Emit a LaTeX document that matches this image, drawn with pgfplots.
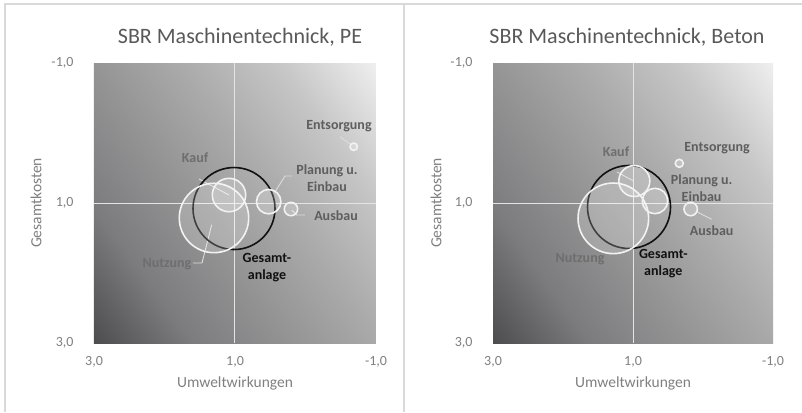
\documentclass[border=0pt]{standalone}
\usepackage{pgfplots}
\usepackage{pgfplotstable}
\pgfplotsset{compat=1.18}
\usepackage{fontspec}
\setmainfont{Carlito}
\definecolor{framec}{HTML}{D9D9D9}
\definecolor{titlegray}{HTML}{595959}
\definecolor{labgray}{HTML}{7F7F7F}
\definecolor{ga}{HTML}{4E4E51}
\definecolor{gb}{HTML}{7C7C7E}
\definecolor{gc}{HTML}{939394}
\definecolor{gd}{HTML}{ABABAC}
\definecolor{ge}{HTML}{C6C6C7}
\definecolor{gf}{HTML}{EEEEEE}
\pgfdeclarehorizontalshading{diaggrad}{100bp}{color(0bp)=(ga); color(15.55bp)=(ga); color(29.33bp)=(gb); color(43.11bp)=(gc); color(56.89bp)=(gd); color(70.67bp)=(ge); color(84.45bp)=(gf); color(100bp)=(gf)}
\definecolor{gridc}{HTML}{E4E4E4}
\definecolor{dla}{HTML}{6E6E6E}
\definecolor{dlb}{HTML}{5E5E5E}
\definecolor{dlk}{HTML}{111111}
\definecolor{bubw}{HTML}{F2F2F2}
\definecolor{leadc}{HTML}{DDDDDD}

% PE: x = Umweltwirkungen, y = Gesamtkosten, r = bubble radius (pt)
\pgfplotstableread{
x      y      r
1.298  1.214  34.7
1.085  0.886  16.7
0.522  0.981  12.2
0.206  1.086  6.7
-0.684 0.196  3.7
}\peteile
\pgfplotstableread{
x      y      r
1.014  1.079  41.0
}\pegesamt
% Beton
\pgfplotstableread{
x      y      r
1.281  1.219  35.3
0.981  0.686  15.5
0.686  0.971  12.7
0.176  1.086  6.7
0.339  0.433  4.0
}\betonteile
\pgfplotstableread{
x      y      r
1.057  1.057  41.5
}\betongesamt

\pgfplotsset{
  panel/.style={
    scale only axis, width=#1, height=280pt, anchor=south west,
    xmin=-1, xmax=3, ymin=-1, ymax=3, x dir=reverse, y dir=reverse,
    xtick={-1,1,3}, xticklabels={{-1,0},{1,0},{3,0}},
    ytick={-1,1,3}, yticklabels={{-1,0},{1,0},{3,0}},
    axis line style={draw=none}, major tick length=0pt,
    tick label style={font=\fontsize{14}{14}\selectfont, text=labgray},
    xticklabel style={yshift=-10pt},
    yticklabel style={xshift=-17pt},
    axis background/.style={shade, shading=diaggrad, shading angle=36},
    clip=false,
  },
  bubble/.style 2 args={scatter, only marks, mark=*,
    scatter/use mapped color={draw=#1, fill=white, fill opacity=#2, line width=1.6pt},
    visualization depends on={\thisrow{r}\as\rad},
    scatter/@pre marker code/.append style={/tikz/mark size=\rad}},
}
\tikzset{
  lab/.style={font=\bfseries\fontsize{14}{17}\selectfont, align=center, text=#1, inner sep=0pt},
  leader/.style={draw=leadc, line width=0.9pt},
}

\begin{document}
\begin{tikzpicture}
\path[use as bounding box] (0pt,0pt) rectangle (802pt,412pt);
\draw[framec, line width=1.5pt] (5pt,0pt) -- (5pt,408pt) -- (802pt,408pt);
\draw[framec, line width=1.5pt] (404pt,0pt) -- (404pt,408pt);

% ---------- PE ----------
\begin{axis}[panel=282pt, at={(94pt,69pt)}]
\draw[gridc, line width=1pt] (axis cs:1,-1) -- (axis cs:1,3);
\draw[gridc, line width=1pt] (axis cs:-1,1) -- (axis cs:3,1);
\addplot[bubble={dlk}{0.05}] table[x=x, y=y] {\pegesamt};
\addplot[bubble={bubw}{0.2}] table[x=x, y=y] {\peteile};
\draw[leader] (axis cs:1.511,0.657) -- (axis cs:1.085,0.886);
\draw[leader] (axis cs:1.596,1.857) -- (axis cs:1.468,1.857) -- (axis cs:1.33,1.31);
\draw[leader] (axis cs:0.191,0.614) -- (axis cs:0.291,0.614) -- (axis cs:0.433,0.843);
\draw[leader] (axis cs:0.197,1.10) -- (axis cs:0.126,1.171) -- (axis cs:0.007,1.171);
\draw[leader] (axis cs:-0.489,0.053) -- (axis cs:-0.631,0.157);
\node[lab=dla] at (axis cs:1.567,0.357) {Kauf};
\node[lab=dla] at (axis cs:1.965,1.871) {Nutzung};
\node[lab=dlb] at (axis cs:-0.305,0.65) {Planung u.\\Einbau};
\node[lab=dlb] at (axis cs:-0.433,1.186) {Ausbau};
\node[lab=dlb] at (axis cs:-0.475,-0.1) {Entsorgung};
\node[lab=dlk] at (axis cs:0.546,1.92) {Gesamt-\\anlage};
\end{axis}

% ---------- Beton ----------
\begin{axis}[panel=280pt, at={(493pt,69pt)}]
\draw[gridc, line width=1pt] (axis cs:1,-1) -- (axis cs:1,3);
\draw[gridc, line width=1pt] (axis cs:-1,1) -- (axis cs:3,1);
\addplot[bubble={dlk}{0.05}] table[x=x, y=y] {\betongesamt};
\addplot[bubble={bubw}{0.2}] table[x=x, y=y] {\betonteile};
\draw[leader] (axis cs:1.229,0.557) -- (axis cs:0.99,0.686);
\draw[leader] (axis cs:0.090,1.124) -- (axis cs:-0.124,1.233);
\node[lab=dla] at (axis cs:1.243,0.267) {Kauf};
\node[lab=dla] at (axis cs:1.757,1.804) {Nutzung};
\node[lab=dlb] at (axis cs:0.02,0.786) {Planung u.\\Einbau};
\node[lab=dlb] at (axis cs:-0.124,1.4) {Ausbau};
\node[lab=dlb] at (axis cs:-0.2,0.21) {Entsorgung};
\node[lab=dlk] at (axis cs:0.567,1.87) {Gesamt-\\anlage};
\end{axis}

% titles and axis labels
\node[text=titlegray, font=\fontsize{22}{22}\selectfont] at (240pt,375pt) {SBR Maschinentechnick, PE};
\node[text=titlegray, font=\fontsize{22}{22}\selectfont] at (627pt,375pt) {SBR Maschinentechnick, Beton};
\node[text=labgray, font=\fontsize{15.5}{15.5}\selectfont] at (235pt,29pt) {Umweltwirkungen};
\node[text=labgray, font=\fontsize{15.5}{15.5}\selectfont] at (633pt,29pt) {Umweltwirkungen};
\node[text=labgray, font=\fontsize{15.5}{15.5}\selectfont, rotate=90] at (36pt,209pt) {Gesamtkosten};
\node[text=labgray, font=\fontsize{15.5}{15.5}\selectfont, rotate=90] at (436pt,209pt) {Gesamtkosten};
\end{tikzpicture}
\end{document}
